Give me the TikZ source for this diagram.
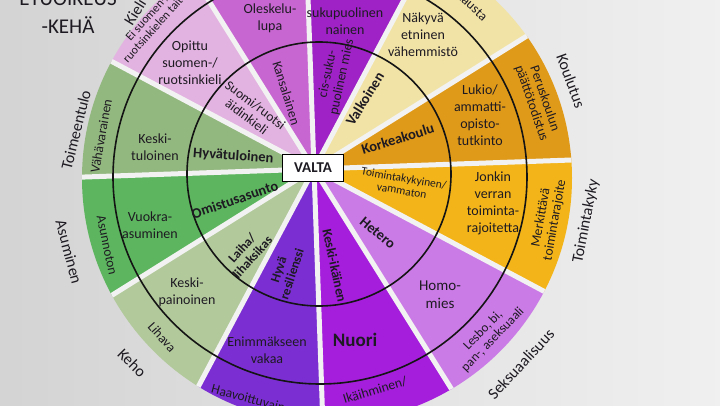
\documentclass[tikz,border=0pt]{standalone}
\usepackage{fontspec}
\setmainfont{Carlito}
\usepackage{xcolor}
\usepackage{tikz}

\definecolor{sukupuoli}{HTML}{9E22C6}
\definecolor{etninen}{HTML}{F1E3A6}
\definecolor{koulutus}{HTML}{E09A1A}
\definecolor{toimkyky}{HTML}{F2B419}
\definecolor{seksuaal}{HTML}{CB7BE6}
\definecolor{ika}{HTML}{A41EDC}
\definecolor{mieli}{HTML}{7B2FD3}
\definecolor{keho}{HTML}{B2C99C}
\definecolor{asuminen}{HTML}{5DB65F}
\definecolor{toimeentulo}{HTML}{93B87F}
\definecolor{kieli}{HTML}{E2B3E0}
\definecolor{kansalais}{HTML}{C766D1}
\definecolor{ink}{HTML}{1E1A22}

\begin{document}
\begin{tikzpicture}[
  x=1pt, y=1pt,
  ring/.style={draw=black!92, line width=1.6pt},
  spoke/.style={draw=white!95!black, line width=5pt},
  innertext/.style={align=center, text=ink, inner sep=1pt,
    font=\fontsize{13.5}{14.5}\selectfont},
  innerbold/.style={innertext, font=\fontsize{14.5}{15.5}\selectfont\bfseries},
  midtext/.style={align=center, text=ink, inner sep=1pt,
    font=\fontsize{14}{17}\selectfont},
  outertext/.style={align=center, text=ink, inner sep=1pt,
    font=\fontsize{13.5}{14}\selectfont},
  dimname/.style={text=ink, inner sep=1pt, font=\fontsize{16}{17}\selectfont},
  centerbox/.style={draw, line width=1pt, fill=white, text=ink,
    font=\fontsize{15}{16}\selectfont\bfseries,
    minimum width=60pt, minimum height=27pt}
]

\useasboundingbox (-318,-234) rectangle (402,171);
\clip (-318,-234) rectangle (402,171);
\shade[left color=black!17, right color=black!6] (-318,-234) rectangle (402,171);

% the photo leans: outer rim sits a little right of the hub
\coordinate (hub) at (-4,2);
\begin{scope}
  \clip (9,-7) circle[radius=245pt];
  \foreach \a/\c in {62/sukupuoli, 32/etninen, 2/koulutus, -28/toimkyky,
      -58/seksuaal, -88/ika, -118/mieli, -148/keho, -178/asuminen,
      152/toimeentulo, 122/kieli, 92/kansalais}
    \fill[\c] (hub) -- ++(\a:400) arc[start angle=\a, end angle=\a+30, radius=400pt] -- cycle;
  \foreach \a in {2,32,...,332}
    \draw[spoke] (hub) -- ++(\a:400);
\end{scope}

\draw[ring] (1,-3) circle[radius=132pt];
\draw[ring] (2,-6) circle[radius=207pt];

\node[centerbox] (valta) at (-5,3) {VALTA};

% inner ring
\node[innertext, rotate=78] (cismies) at (80:97) {cis-suku-\\puolinen mies};
\node[innerbold, rotate=58] (valkoinen) at (57:86) {Valkoinen};
\node[innerbold, rotate=17] (korkeakoulu) at (22:86) {Korkeakoulu};
\node[innertext, rotate=-10, font=\fontsize{11.5}{12.5}\selectfont] (vammaton) at (-9:86)
  {Toimintakykyinen/\\vammaton};
\node[innerbold, rotate=-40] (hetero) at (-46:86) {Hetero};
\node[innerbold, rotate=-78, font=\fontsize{13.5}{14}\selectfont\bfseries] (keskiikainen) at (-80:96)
  {Keski-ikäinen};
\node[innerbold, rotate=72, font=\fontsize{13}{14}\selectfont\bfseries] (resilienssi) at (252:106)
  {Hyvä\\resilienssi};
\node[innerbold, rotate=48, font=\fontsize{13}{14}\selectfont\bfseries] (laiha) at (229:108)
  {Laiha/\\lihaksikas};
\node[innerbold, rotate=19] (omistus) at (199:88) {Omistusasunto};
\node[innerbold, rotate=-4] (hyvatulo) at (170:86) {Hyvätuloinen};
\node[innertext, rotate=-37] (aidinkieli) at (138:90) {Suomi/ruotsi\\äidinkieli};
\node[innertext, rotate=-73] (kansalainen) at (112:84) {Kansalainen};

% middle ring
\node[midtext] (nainen) at (27,150) {sukupuolinen\\nainen};
\node[midtext] (oleskelu) at (-48,153) {Oleskelu-\\lupa};
\node[midtext] (nakyva) at (105,136) {Näkyvä\\etninen\\vähemmistö};
\node[midtext] (lukio) at (162,56) {Lukio/\\ammatti-\\opisto-\\tutkinto};
\node[midtext] (jonkin) at (175,-32) {Jonkin\\verran\\toiminta-\\rajoitetta};
\node[midtext, font=\fontsize{15}{18}\selectfont] (homo) at (122,-124) {Homo-\\mies};
\node[midtext, font=\fontsize{19}{20}\selectfont\bfseries] (nuori) at (37,-169) {Nuori};
\node[midtext] (vakaa) at (-51,-179) {Enimmäkseen\\vakaa};
\node[midtext] (keskipaino) at (-131,-121) {Keski-\\painoinen};
\node[midtext] (vuokra) at (-168,-54) {Vuokra-\\asuminen};
\node[midtext] (keskitulo) at (-163,24) {Keski-\\tuloinen};
\node[midtext] (opittu) at (-128,108) {Opittu\\suomen-/\\ruotsinkieli};

% outer ring
\node[outertext, rotate=-43] (tausta) at (155,164) {tausta};
\node[outertext, rotate=-71] (perus) at (220,70) {Peruskoulun\\päättötodistus};
\node[outertext, rotate=80] (merkittava) at (230,-48) {Merkittävä\\toimintarajoite};
\node[outertext, rotate=46, font=\fontsize{13}{13.5}\selectfont] (lesbo) at (170,-164)
  {Lesbo, bi,\\pan-, aseksuaali};
\node[outertext, rotate=17] (ikaihminen) at (57,-219) {Ikäihminen/};
\node[outertext, rotate=-15] (haavoitt) at (-63,-229) {Haavoittuvainen};
\node[outertext, rotate=-48] (lihava) at (-156,-166) {Lihava};
\node[outertext, rotate=-78] (asunnoton) at (-211,-74) {Asunnoton};
\node[outertext, rotate=80] (vahavarainen) at (-217,35) {Vähävarainen};
\node[outertext, rotate=48, font=\fontsize{12}{12.5}\selectfont] (eitaitoa) at (-166,150)
  {Ei suomen-/\\ruotsinkielen taitoa};

% names round the wheel
\node[dimname, rotate=-70] (koulutusname) at (253,90) {Koulutus};
\node[dimname, rotate=79] (kykyname) at (268,-50) {Toimintakyky};
\node[dimname, rotate=47] (seksname) at (203,-193) {Seksuaalisuus};
\node[dimname, rotate=-45] (kehoname) at (-186,-192) {Keho};
\node[dimname, rotate=-75] (asumisname) at (-249,-81) {Asuminen};
\node[dimname, rotate=76] (tuloname) at (-242,41) {Toimeentulo};
\node[dimname, rotate=58] (kieliname) at (-183,159) {Kieli};

% title
\node[align=center, text=ink, font=\fontsize{21}{28}\selectfont, anchor=south]
  (title) at (-250,134) {ETUOIKEUS\\-KEHÄ};

\end{tikzpicture}
\end{document}
